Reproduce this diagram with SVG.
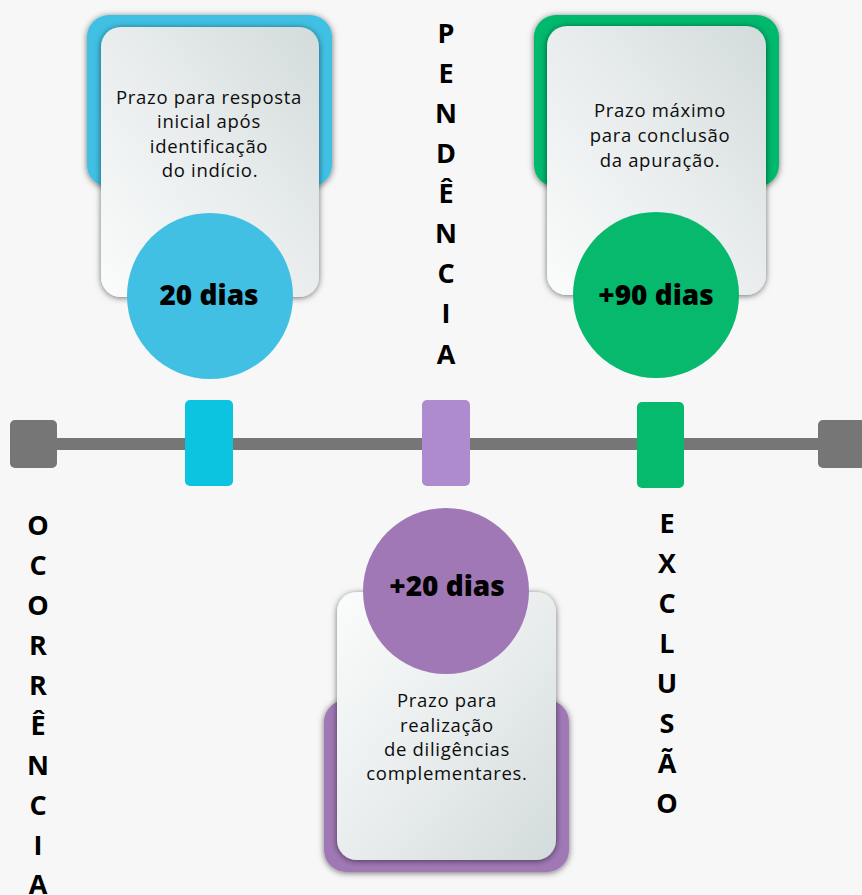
<svg xmlns="http://www.w3.org/2000/svg" width="862" height="895" viewBox="0 0 862 895">
<defs>
  <linearGradient id="gUp" x1="0" y1="1" x2="1" y2="0">
    <stop offset="0" stop-color="#fbfcfc"/>
    <stop offset="0.5" stop-color="#e9eded"/>
    <stop offset="1" stop-color="#d3dbdb"/>
  </linearGradient>
  <linearGradient id="gDown" x1="0" y1="0" x2="1" y2="1">
    <stop offset="0" stop-color="#fbfcfc"/>
    <stop offset="0.5" stop-color="#e9eded"/>
    <stop offset="1" stop-color="#d3dbdb"/>
  </linearGradient>
  <filter id="sh" x="-20%" y="-20%" width="140%" height="140%">
    <feDropShadow dx="0" dy="1" stdDeviation="3" flood-color="#000" flood-opacity="0.55"/>
  </filter>
</defs>
<style>
  .body{font-family:"Open Sans","Liberation Sans",sans-serif;font-size:18.5px;letter-spacing:0.7px;fill:#0d0d0d;text-anchor:middle}
  .num{font-family:"Open Sans","Liberation Sans",sans-serif;font-size:28px;font-weight:800;fill:#000;text-anchor:middle}
  .vert{font-family:"Open Sans","Liberation Sans",sans-serif;font-size:27px;font-weight:700;fill:#000;text-anchor:middle}
  .blue{fill:#41c0e3}
  .green{fill:#06b96d}
  .purple{fill:#a078b5}
</style>
<rect width="862" height="895" fill="#f7f7f7"/>

<g id="timeline">
  <rect x="30" y="438" width="800" height="12" fill="#767676"/>
  <rect x="10" y="420" width="47" height="48" rx="5" fill="#767676"/>
  <rect x="818" y="420" width="50" height="48" rx="5" fill="#767676"/>
  <rect x="185" y="400" width="48" height="86" rx="5" fill="#0cc3e0"/>
  <rect x="422" y="400" width="48" height="86" rx="5" fill="#ae8bcf"/>
  <rect x="637" y="402" width="47" height="86" rx="5" fill="#05b96d"/>
</g>

<g id="card-20-dias">
  <rect x="87" y="15" width="245" height="172" rx="22" class="blue" filter="url(#sh)"/>
  <rect x="101" y="27" width="218" height="270" rx="20" fill="url(#gUp)" filter="url(#sh)"/>
  <text class="body" x="209" y="104">Prazo para resposta</text>
  <text class="body" x="209" y="128">inicial após</text>
  <text class="body" x="209" y="153">identificação</text>
  <text class="body" x="210" y="177">do indício.</text>
  <circle cx="210" cy="296" r="83" class="blue"/>
  <text class="num" x="209" y="305">20 dias</text>
</g>

<g id="card-90-dias">
  <rect x="534" y="15" width="245" height="172" rx="22" class="green" filter="url(#sh)"/>
  <rect x="547" y="26" width="219" height="269" rx="20" fill="url(#gUp)" filter="url(#sh)"/>
  <text class="body" x="660" y="117">Prazo máximo</text>
  <text class="body" x="660" y="142">para conclusão</text>
  <text class="body" x="660" y="167">da apuração.</text>
  <circle cx="656" cy="295" r="83" class="green"/>
  <text class="num" x="656" y="305">+90 dias</text>
</g>

<g id="card-mais-20-dias">
  <rect x="324" y="700" width="245" height="172" rx="22" class="purple" filter="url(#sh)"/>
  <rect x="337" y="592" width="219" height="268" rx="20" fill="url(#gDown)" filter="url(#sh)"/>
  <circle cx="446" cy="591" r="83" class="purple"/>
  <text class="num" x="447" y="596">+20 dias</text>
  <text class="body" x="447" y="707">Prazo para</text>
  <text class="body" x="447" y="732">realização</text>
  <text class="body" x="447" y="756">de diligências</text>
  <text class="body" x="447" y="780">complementares.</text>
</g>

<g id="label-pendencia">
  <text class="vert" x="446" y="43">P</text>
  <text class="vert" x="446" y="83">E</text>
  <text class="vert" x="446" y="123">N</text>
  <text class="vert" x="446" y="163">D</text>
  <text class="vert" x="446" y="203">Ê</text>
  <text class="vert" x="446" y="243">N</text>
  <text class="vert" x="446" y="283">C</text>
  <text class="vert" x="446" y="323">I</text>
  <text class="vert" x="446" y="364">A</text>
</g>

<g id="label-ocorrencia">
  <text class="vert" x="38" y="535">O</text>
  <text class="vert" x="38" y="575">C</text>
  <text class="vert" x="38" y="615">O</text>
  <text class="vert" x="38" y="655">R</text>
  <text class="vert" x="38" y="695">R</text>
  <text class="vert" x="38" y="735">Ê</text>
  <text class="vert" x="38" y="775">N</text>
  <text class="vert" x="38" y="815">C</text>
  <text class="vert" x="38" y="855">I</text>
  <text class="vert" x="38" y="894">A</text>
</g>

<g id="label-exclusao">
  <text class="vert" x="667" y="533">E</text>
  <text class="vert" x="667" y="573">X</text>
  <text class="vert" x="667" y="613">C</text>
  <text class="vert" x="667" y="653">L</text>
  <text class="vert" x="667" y="693">U</text>
  <text class="vert" x="667" y="733">S</text>
  <text class="vert" x="667" y="773">Ã</text>
  <text class="vert" x="667" y="813">O</text>
</g>
</svg>
